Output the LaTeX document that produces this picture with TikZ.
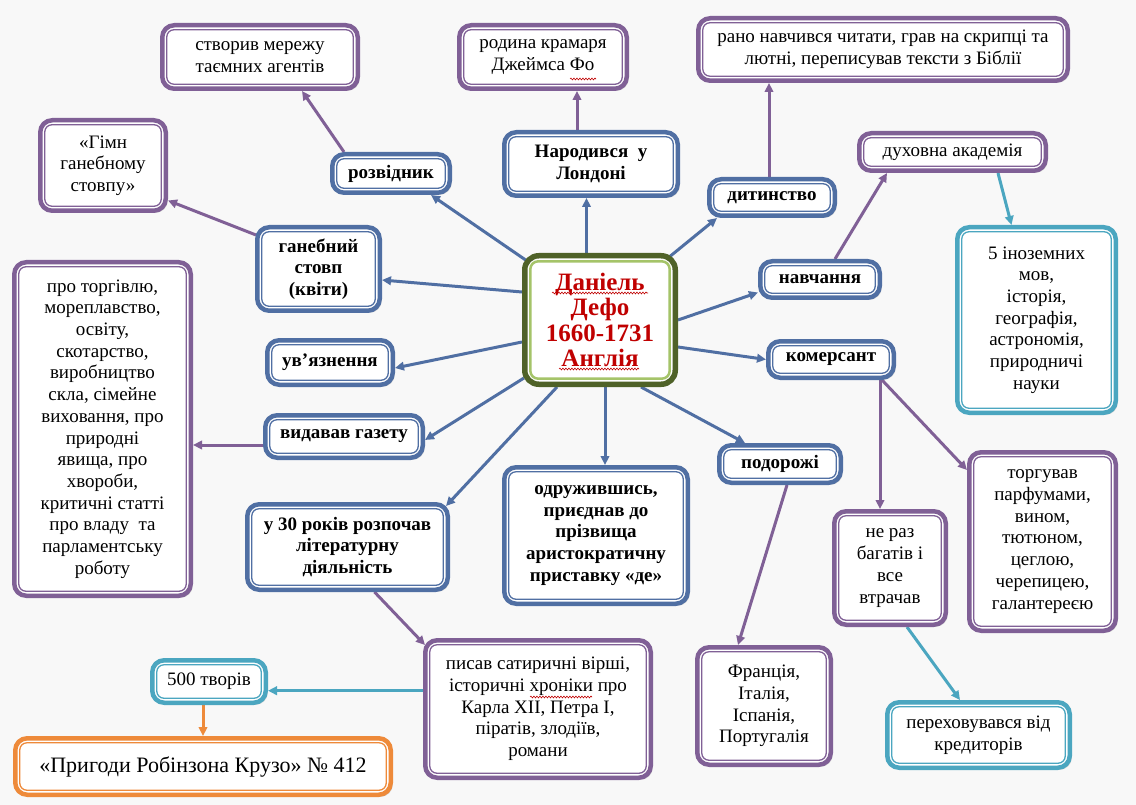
\documentclass[tikz,border=0pt]{standalone}
\usepackage{fontspec}
\setmainfont{Liberation Serif}
\usetikzlibrary{arrows.meta,shadows,decorations.pathmorphing}
\definecolor{blu}{RGB}{80,111,163}
\definecolor{pur}{RGB}{128,96,150}
\definecolor{tea}{RGB}{75,166,192}
\definecolor{ora}{RGB}{238,138,58}
\definecolor{dgr}{RGB}{79,98,40}
\definecolor{lgr}{RGB}{165,196,105}
\definecolor{rd}{RGB}{192,0,0}
\definecolor{bgc}{RGB}{248,248,248}
\newcommand\fsn{\fontsize{19}{21.7}\selectfont}
\pgfdeclarelayer{bgl}\pgfdeclarelayer{conn}\pgfsetlayers{bgl,conn,main}
% #1 extra options, #2 name, #3 colour, #4..#7 outer box x1,y1,x2,y2, #8 text
\newcommand\mkbox[8][]{%
  \node[bxs=#3, minimum width={#6-#4-4.5}, minimum height={#7-#5-4.5}, #1] (#2) at ({(#4+#6)/2},{(#5+#7)/2}) {#8};
  \draw[inl=#3] ([shift={(6.8pt,-6.8pt)}]#2.north west) rectangle ([shift={(-6.8pt,6.8pt)}]#2.south east);
}
\tikzset{
  bxs/.style={draw=#1, line width=4.5pt, rounded corners=12pt, fill=white, align=center, text=black,
    inner sep=1pt, font=\fsn, drop shadow={shadow xshift=2pt, shadow yshift=-2pt, fill=black, opacity=.15}},
  inl/.style={draw=#1, line width=1.3pt, rounded corners=7pt},
  bld/.style={font=\fsn\bfseries},
  arr/.style={draw=#1, line width=3pt, -{Triangle[length=9pt,width=8.5pt]}},
  wav/.style={draw=rd, line width=0.6pt, decorate, decoration={snake, amplitude=0.9pt, segment length=3pt}},
}
\begin{document}
\begin{tikzpicture}[x=1pt,y=-1pt]
\useasboundingbox (0,0) rectangle (1136,805);
\begin{pgfonlayer}{bgl}
  \fill[bgc] (0,0) rectangle (1136,805);
\end{pgfonlayer}

% centre
\node[draw=dgr, line width=5.5pt, rounded corners=14pt, fill=white, align=center, text=rd,
  font=\fontsize{25}{25.5}\selectfont\bfseries, minimum width=150.5, minimum height=128.5,
  drop shadow={shadow xshift=2pt, shadow yshift=-2pt, fill=black, opacity=.15}]
  (J) at (600,320) {Даніель\\Дефо\\1660-1731\\Англія};
\draw[draw=lgr, line width=2.5pt, rounded corners=8pt] ([shift={(8.3pt,-8.3pt)}]J.north west) rectangle ([shift={(-8.3pt,8.3pt)}]J.south east);

% blue (bold) boxes
\mkbox[bld]{E}{blu}{330}{152}{452}{195}{розвідник}
\mkbox[bld]{F}{blu}{502}{130}{680}{198}{Народився~~у\\Лондоні}
\mkbox[bld]{G}{blu}{707}{177}{837}{218}{дитинство}
\mkbox[bld]{I}{blu}{255}{225}{382}{313}{ганебний\\стовп\\(квіти)}
\mkbox[bld]{K}{blu}{758}{259}{882}{300}{навчання}
\mkbox[bld]{N}{blu}{265}{338}{395}{387}{ув’язнення}
\mkbox[bld]{O}{blu}{766}{339}{896}{380}{комерсант}
\mkbox[bld]{P}{blu}{263}{413}{425}{460}{видавав газету}
\mkbox[bld]{Q}{blu}{717}{443}{843}{485}{подорожі}
\mkbox[bld]{R}{blu}{245}{502}{450}{592}{у 30 років розпочав\\літературну\\діяльність}
\mkbox[bld]{S}{blu}{502}{465}{690}{606}{одружившись,\\приєднав до\\прізвища\\аристократичну\\приставку «де»}

% purple boxes
\mkbox{A}{pur}{160}{23}{360}{91}{створив мережу\\таємних агентів}
\mkbox{B}{pur}{457}{23}{629}{91}{родина крамаря\\Джеймса Фо}
\mkbox{C}{pur}{696}{16}{1070}{83}{рано навчився читати, грав на скрипці та\\лютні, переписував тексти з Біблії}
\mkbox{D}{pur}{38}{118}{168}{213}{«Гімн\\ганебному\\стовпу»}
\mkbox{H}{pur}{857}{131}{1048}{173}{духовна академія}
\mkbox{M}{pur}{12}{260}{193}{598}{про торгівлю,\\мореплавство,\\освіту,\\скотарство,\\виробництво\\скла, сімейне\\виховання, про\\природні\\явища, про\\хвороби,\\критичні статті\\про владу~~та\\парламентську\\роботу}
\mkbox{T}{pur}{832}{509}{948}{627}{не раз\\багатів і\\все\\втрачав}
\mkbox{U}{pur}{967}{450}{1118}{633}{торгував\\парфумами,\\вином,\\тютюном,\\цеглою,\\черепицею,\\галантереєю}
\mkbox{V}{pur}{423}{638}{653}{780}{писав сатиричні вірші,\\історичні хроніки про\\Карла XII, Петра I,\\піратів, злодіїв,\\романи}
\mkbox{W}{pur}{695}{645}{833}{767}{Франція,\\Італія,\\Іспанія,\\Португалія}

% teal boxes
\mkbox{L}{tea}{955}{225}{1118}{415}{5 іноземних\\мов,\\історія,\\географія,\\астрономія,\\природничі\\науки}
\mkbox{X}{tea}{885}{700}{1072}{770}{переховувався від\\кредиторів}
\mkbox{Y}{tea}{150}{658}{268}{705}{500 творів}

% orange box
\mkbox[font=\fontsize{22}{24}\selectfont]{Z}{ora}{13}{736}{393}{797}{«Пригоди Робінзона Крузо» № 412}

% connectors
\begin{pgfonlayer}{conn}
\draw[arr=blu] ([shift={(8pt,-10pt)}]J.north west) -- ([xshift=-21pt]E.south east);
\draw[arr=blu] ([xshift=-13.5pt]J.north) -- ([xshift=-4.5pt]F.south);
\draw[arr=blu] ([shift={(-10pt,-5pt)}]J.north east) -- ([xshift=10pt]G.south west);
\draw[arr=blu] ([yshift=28pt]J.west) -- ([yshift=-11pt]I.east);
\draw[arr=blu] (J.east) -- ([yshift=-13pt]K.west);
\draw[arr=blu] ([yshift=-22pt]J.west) -- ([yshift=-5.5pt]N.east);
\draw[arr=blu] ([yshift=-27pt]J.east) -- (O.west);
\draw[arr=blu] ([shift={(2pt,9pt)}]J.south west) -- ([yshift=-3.5pt]P.east);
\draw[arr=blu] ([xshift=-43pt]J.south) -- ([shift={(-4pt,-4pt)}]R.north east);
\draw[arr=blu] ([xshift=5pt]J.south) -- ([xshift=9pt]S.north);
\draw[arr=blu] ([xshift=41pt]J.south) -- ([xshift=-35pt]Q.north);

\draw[arr=pur] ([xshift=14pt]E.north west) -- ([xshift=42pt]A.south);
\draw[arr=pur] ([xshift=-14pt]F.north) -- ([xshift=34pt]B.south);
\draw[arr=pur] ([xshift=-3pt]G.north) -- ([xshift=-3pt]G.north |- C.south);
\draw[arr=pur] ([shift={(1pt,-10pt)}]I.north west) -- ([yshift=-35pt]D.east);
\draw[arr=pur] ([xshift=15pt]K.north) -- ([xshift=30pt]H.south west);
\draw[arr=pur] ([yshift=-8.5pt]P.west) -- ([yshift=-16pt]M.east);
\draw[arr=pur] ([xshift=27pt]R.south) -- ([shift={(2pt,-7pt)}]V.north west);
\draw[arr=pur] ([xshift=7pt]Q.south) -- ([xshift=-26pt]W.north);
\draw[arr=pur] ([xshift=49pt]O.south) -- ([xshift=-10pt]T.north);
\draw[arr=pur] ([xshift=-14pt]O.south east) -- ([yshift=-20pt]U.north west);

\draw[arr=tea] ([xshift=45.5pt]H.south) -- ([xshift=-25pt]L.north);
\draw[arr=tea] ([xshift=17pt]T.south) -- ([xshift=-18.5pt]X.north);
\draw[arr=tea] ([yshift=18.3pt]V.west) -- ([yshift=-9.2pt]Y.east);

\draw[arr=ora] ([xshift=-6pt]Y.south) -- (Z.north);
\end{pgfonlayer}

% spell-check squiggles
\draw[wav] (552,293) -- (648,293);
\draw[wav] (559,369) -- (639,369);
\draw[wav] (570,79) -- (596,79);
\draw[wav] (530,697) -- (592,697);
\end{tikzpicture}
\end{document}
